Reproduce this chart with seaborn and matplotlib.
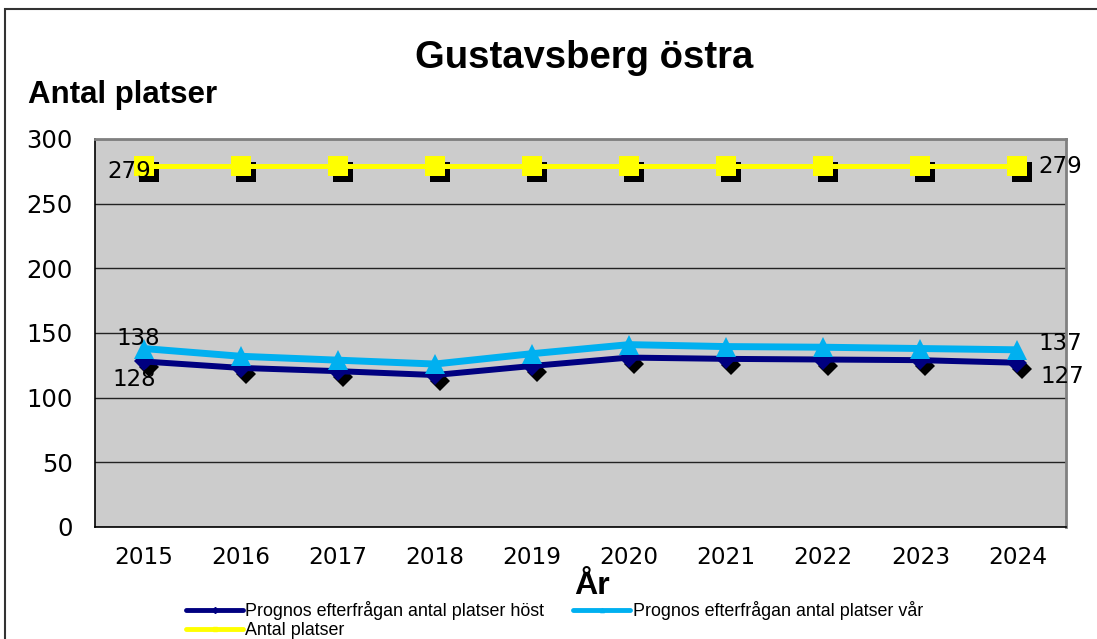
import matplotlib
matplotlib.use("Agg")
import matplotlib.pyplot as plt
import matplotlib.transforms as mtransforms
from matplotlib.lines import Line2D
from matplotlib.patches import Rectangle
import seaborn as sns
import pandas as pd

# data
years = [2015, 2016, 2017, 2018, 2019, 2020, 2021, 2022, 2023, 2024]
prognos_host = [128, 123, 120.5, 117.5, 124.5, 131, 130, 129.5, 129, 127]
prognos_var = [138, 132, 129, 126, 134, 141, 139.5, 139, 138, 137]
antal_platser = [279, 279, 279, 279, 279, 279, 279, 279, 279, 279]

labels = ["Prognos efterfrågan antal platser höst",
          "Prognos efterfrågan antal platser vår",
          "Antal platser"]
colors = ["#000080", "#00B0F0", "#FFFF00"]

df = pd.DataFrame({"year": years, "host": prognos_host,
                   "var": prognos_var, "antal": antal_platser})

sns.set_style("white")
plt.rcParams["font.family"] = ["DejaVu Sans"]
plt.rcParams["text.color"] = "black"
plt.rcParams["xtick.color"] = "black"
plt.rcParams["ytick.color"] = "black"
plt.rcParams["axes.labelcolor"] = "black"

fig = plt.figure(figsize=(10.97, 6.39), dpi=100)
ax = fig.add_axes([95 / 1097, 1 - 527 / 639, 971 / 1097, 388 / 639])
ax.set_facecolor("#cccccc")

# shadow offset for markers
shadow = ax.transData + mtransforms.ScaledTranslation(5 / 100, -6 / 100, fig.dpi_scale_trans)

# höst (dark blue, diamonds with shadow)
sns.lineplot(data=df, x="year", y="host", ax=ax, color="black", marker="D",
             markersize=10, markeredgewidth=0, linestyle="", transform=shadow, zorder=3)
sns.lineplot(data=df, x="year", y="host", ax=ax, color=colors[0], marker="D",
             markersize=10, markeredgewidth=0, linewidth=4.3, zorder=4)

# vår (light blue, triangles)
sns.lineplot(data=df, x="year", y="var", ax=ax, color=colors[1], marker="^",
             markersize=15, markeredgewidth=0, linewidth=5, zorder=5)

# antal platser (yellow squares with shadow)
sns.lineplot(data=df, x="year", y="antal", ax=ax, color="black", marker="s",
             markersize=14, markeredgewidth=0, linestyle="", transform=shadow, zorder=6)
sns.lineplot(data=df, x="year", y="antal", ax=ax, color=colors[2], marker="s",
             markersize=14, markeredgewidth=0, linewidth=3.6, zorder=7)

# data labels at the ends
lbl_kw = dict(fontsize=16.5, color="black", zorder=8)
ax.text(years[0] - 0.15, antal_platser[0] - 4, f"{antal_platser[0]}", ha="center", va="center", **lbl_kw)
ax.text(years[-1] + 0.22, antal_platser[-1], f"{antal_platser[-1]}", ha="left", va="center", **lbl_kw)
ax.text(years[0] - 0.05, prognos_var[0] + 8, f"{prognos_var[0]}", ha="center", va="center", **lbl_kw)
ax.text(years[-1] + 0.22, prognos_var[-1] + 5, f"{prognos_var[-1]}", ha="left", va="center", **lbl_kw)
ax.text(years[0] - 0.1, prognos_host[0] - 14, f"{prognos_host[0]}", ha="center", va="center", **lbl_kw)
ax.text(years[-1] + 0.24, prognos_host[-1] - 11, f"{prognos_host[-1]}", ha="left", va="center", **lbl_kw)

ax.set_xlim(years[0] - 0.5, years[-1] + 0.5)
ax.set_ylim(0, 300)
ax.set_yticks(range(0, 301, 50))
ax.set_xticks(years)
ax.set_xticks([y - 0.5 for y in years] + [years[-1] + 0.5], minor=True)
ax.tick_params(axis="x", which="major", length=0, labelsize=16.7, pad=14)
ax.tick_params(axis="x", which="minor", length=7, width=1, color="black", direction="out")
ax.tick_params(axis="y", length=7, width=1, color="black", direction="out", labelsize=17.5, pad=9)
ax.yaxis.grid(True, color="#222222", linewidth=1)
ax.set_axisbelow(True)
ax.set_xlabel("")
ax.set_ylabel("")

for side in ["left", "bottom"]:
    ax.spines[side].set_color("black")
    ax.spines[side].set_linewidth(1.2)
for side in ["top", "right"]:
    ax.spines[side].set_color("#808080")
    ax.spines[side].set_linewidth(2)

fig.text(584 / 1097, 1 - 58 / 639, "Gustavsberg östra", ha="center", va="center",
         fontsize=27.5, fontweight="bold", family=["Liberation Sans", "DejaVu Sans"])
fig.text(28 / 1097, 1 - 95 / 639, "Antal platser", ha="left", va="center",
         fontsize=22.5, fontweight="bold", family=["Liberation Sans", "DejaVu Sans"])
fig.text(592 / 1097, 1 - 586 / 639, "År", ha="center", va="center",
         fontsize=23, fontweight="bold", family=["Liberation Sans", "DejaVu Sans"])

# legend with small markers, filled row by row like the original
handles = {
    labels[0]: Line2D([], [], color=colors[0], linewidth=3.5, marker="D", markersize=3,
                      solid_capstyle="round"),
    labels[1]: Line2D([], [], color=colors[1], linewidth=3.5, marker="^", markersize=3,
                      solid_capstyle="round"),
    labels[2]: Line2D([], [], color=colors[2], linewidth=3.5, marker="s", markersize=3,
                      solid_capstyle="round"),
}
order = [labels[0], labels[2], labels[1]]
fig.legend([handles[k] for k in order], order, loc="upper left",
           bbox_to_anchor=(186 / 1097, 1 - 601 / 639),
           ncol=2, frameon=False, handlelength=3.2, handletextpad=0.12,
           columnspacing=1.6, labelspacing=0.1, borderpad=0, borderaxespad=0,
           prop={"family": ["Liberation Sans", "DejaVu Sans"], "size": 12.9})

# outer chart border (top and left edges visible)
fig.add_artist(Rectangle((5 / 1097, -0.05), 1.2, 1.05 - 9 / 639, transform=fig.transFigure,
                         fill=False, edgecolor="#333333", linewidth=1.5))

fig.savefig("out.png", dpi=100)
